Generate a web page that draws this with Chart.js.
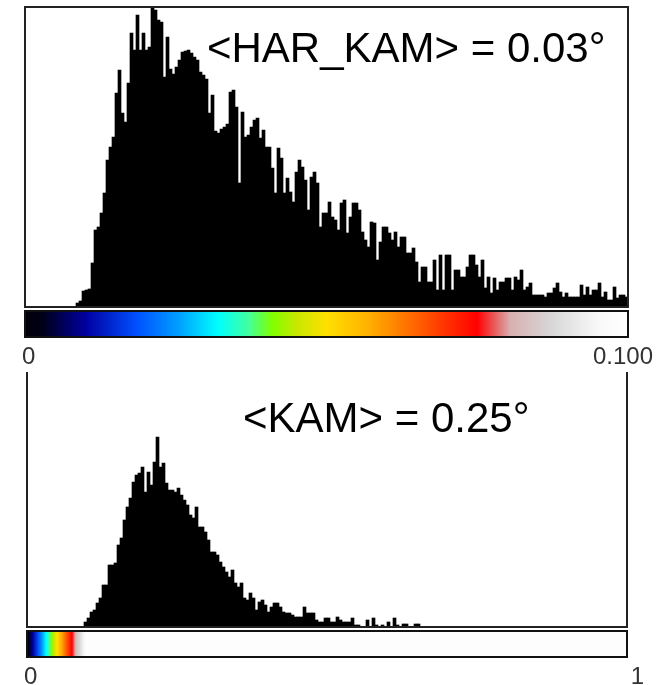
<!DOCTYPE html>
<html>
<head>
<meta charset="utf-8">
<script src="https://cdn.jsdelivr.net/npm/chart.js@4.4.1/dist/chart.umd.min.js"></script>
<style>
  html, body { margin: 0; padding: 0; background: #fff; }
  #wrap { position: relative; width: 667px; height: 685px; }
  #topWrap { position: absolute; left: 0; top: 0; width: 667px; height: 370px; }
  #botWrap { position: absolute; left: 0; top: 370px; width: 667px; height: 315px; }
</style>
</head>
<body>
<div id="wrap">
  <div id="topWrap"><canvas id="topChart"></canvas></div>
  <div id="botWrap"><canvas id="botChart"></canvas></div>
</div>
<script>
// histogram counts (201 bins over 0..0.1)
const harKam = [
  0, 0, 0, 0, 0, 0, 0, 0, 0, 0, 0, 0, 0, 0, 0, 0, 0,
  4, 6, 16, 17, 18, 44, 77, 80, 94, 114, 147, 160, 170, 214, 237, 194, 185, 224,
  274, 257, 292, 257, 274, 257, 260, 300, 297, 287, 285, 230, 270, 238, 233, 240,
  247, 255, 256, 257, 254, 250, 247, 235, 232, 228, 194, 212, 176, 174, 178, 180,
  183, 215, 217, 200, 124, 195, 170, 172, 180, 187, 189, 169, 177, 160, 160, 139,
  114, 159, 149, 114, 129, 115, 105, 135, 147, 140, 127, 97, 130, 135, 124, 80,
  94, 94, 105, 90, 87, 77, 104, 107, 74, 90, 104, 104, 97, 75, 67, 60, 85, 84,
  47, 65, 80,
  80, 74, 67, 75, 60, 70, 70, 54, 54, 59, 45, 25, 40, 40, 25, 25, 47, 17, 52, 17,
  52, 52, 17, 37, 37, 30, 30, 40, 52, 52, 42, 30, 47, 19, 30, 14, 29, 17, 25, 25,
  29, 29, 17, 30, 27, 37, 17, 20, 24, 12, 12, 12, 12, 10, 14, 14, 19, 24, 15, 10,
  14, 10, 10, 10, 10, 22, 12, 20, 12, 17, 17, 24, 10, 15, 7, 7, 20, 9, 12, 12, 10
];

// histogram counts (200 bins over 0..1)
const kam = [
  0, 0, 0, 0, 0, 0, 0, 0, 0, 0, 0, 0, 0, 0, 0, 0, 0, 0, 0,
  5, 9, 15, 17, 24, 29, 42, 42, 62, 62, 64, 82, 89, 107, 120, 129, 145, 152, 154,
  160, 135, 155, 142, 165, 190, 160, 164, 144, 137, 137, 135, 139, 132, 127, 122,
  112, 109, 120, 100, 100, 95, 87, 75, 75, 72, 65, 60, 55, 50, 57, 44, 40, 44, 29,
  27, 34, 29, 17, 25, 27, 22, 15, 20, 24, 24, 20, 15, 14, 14, 12, 10, 10, 10, 20,
  14, 14, 14, 7, 5, 5, 9, 9, 5, 5, 10, 7, 5, 5, 5, 9, 2, 2, 0, 0, 7, 0, 9, 2, 0,
  2, 0, 5, 0, 9, 2, 0, 3, 3, 0, 0, 3, 3,
  0, 0, 0, 0, 0, 0, 0, 0, 0, 0, 0, 0, 0, 0, 0, 0, 0, 0, 0, 0, 0, 0, 0, 0, 0, 0, 0,
  0, 0, 0, 0, 0, 0, 0, 0, 0, 0, 0, 0, 0, 0, 0, 0, 0, 0, 0, 0, 0, 0, 0, 0, 0, 0, 0,
  0, 0, 0, 0, 0, 0, 0, 0, 0, 0, 0, 0, 0, 0, 0
];

const harRange = [0, 0.1];
const kamRange = [0, 1];
const harTicks = ['0', '0.100'];
const kamTicks = ['0', '1'];
const harTitle = '<HAR_KAM> = 0.03°';
const kamTitle = '<KAM> = 0.25°';

// colour map, stops as fraction of 0..0.1
const cmapStops = [0, 0.03, 0.1, 0.135, 0.185, 0.255, 0.32, 0.37, 0.41, 0.45, 0.5, 0.57, 0.635, 0.7, 0.75, 0.78, 0.805, 0.875, 0.95, 1];
const cmapColors = ['#000008', '#00001a', '#0000a0', '#0020c8', '#0050ff', '#00a0ff', '#00ffff', '#40ffa0', '#80ff00', '#c8e800', '#ffe000', '#ffb000', '#ff7000', '#ff3000', '#ff0000', '#e86060', '#d8b0b0', '#d8d8d8', '#f8f8f8', '#ffffff'];

function binLabels(range, n) {
    const out = [];
    const w = (range[1] - range[0]) / n;
    for (let i = 0; i < n; i++) out.push((range[0] + (i + 0.5) * w).toFixed(4));
    return out;
}

const panelPlugin = {
    id: 'panel',
    afterDraw(chart, args, opts) {
        const ctx = chart.ctx;
        const a = chart.chartArea;
        ctx.save();

        // frame
        ctx.strokeStyle = '#222';
        ctx.lineWidth = 2;
        ctx.beginPath();
        if (opts.fullFrame) {
            ctx.rect(a.left, a.top, a.right - a.left, a.bottom - a.top);
        } else {
            ctx.moveTo(a.left, a.top);
            ctx.lineTo(a.left, a.bottom);
            ctx.lineTo(a.right, a.bottom);
            ctx.lineTo(a.right, a.top);
        }
        ctx.stroke();

        // colour bar
        const barTop = a.bottom + 4;
        const barH = 26;
        const span = (opts.cmapEnd - opts.range[0]) / (opts.range[1] - opts.range[0]);
        const x0 = a.left;
        const x1 = a.left + (a.right - a.left) * span;
        const g = ctx.createLinearGradient(x0, 0, x1, 0);
        for (let i = 0; i < cmapStops.length; i++) g.addColorStop(cmapStops[i], cmapColors[i]);
        ctx.fillStyle = '#fdfdfd';
        ctx.fillRect(a.left, barTop, a.right - a.left, barH);
        ctx.fillStyle = g;
        ctx.fillRect(x0, barTop, x1 - x0, barH);
        ctx.strokeStyle = '#111';
        ctx.lineWidth = 2;
        ctx.strokeRect(a.left, barTop, a.right - a.left, barH);

        // end labels
        ctx.fillStyle = '#333';
        ctx.font = '24px "Liberation Sans", Arial, sans-serif';
        ctx.textBaseline = 'alphabetic';
        ctx.textAlign = 'left';
        ctx.fillText(opts.ticks[0], a.left - 3, a.bottom + 57);
        ctx.textAlign = 'right';
        ctx.fillText(opts.ticks[1], opts.rightLabelX, a.bottom + 57);

        // mean value text
        ctx.fillStyle = '#000';
        ctx.font = '42px "Liberation Sans", Arial, sans-serif';
        ctx.textAlign = 'left';
        ctx.fillText(opts.title, opts.titleX, 62);
        ctx.restore();
    }
};

function makeHist(id, values, range, pad, panel, yMax) {
    const ctx = document.getElementById(id).getContext('2d');
    return new Chart(ctx, {
        type: 'bar',
        data: {
            labels: binLabels(range, values.length),
            datasets: [{
                data: values,
                backgroundColor: '#000',
                borderWidth: 0,
                barPercentage: 1,
                categoryPercentage: 1
            }]
        },
        options: {
            responsive: true,
            maintainAspectRatio: false,
            animation: false,
            devicePixelRatio: 1,
            layout: { padding: pad },
            plugins: {
                legend: { display: false },
                tooltip: { enabled: false },
                panel: panel
            },
            scales: {
                x: { display: false },
                y: { display: false, min: 0, max: yMax }
            }
        },
        plugins: [panelPlugin]
    });
}

makeHist('topChart', harKam, harRange,
    { left: 25, right: 39, top: 7, bottom: 63 },
    { fullFrame: true, range: harRange, cmapEnd: 0.1, ticks: harTicks, rightLabelX: 653, title: harTitle, titleX: 207 },
    300);

makeHist('botChart', kam, kamRange,
    { left: 27, right: 40, top: 2, bottom: 58 },
    { fullFrame: false, range: kamRange, cmapEnd: 0.1, ticks: kamTicks, rightLabelX: 644, title: kamTitle, titleX: 243 },
    255);
</script>
</body>
</html>
